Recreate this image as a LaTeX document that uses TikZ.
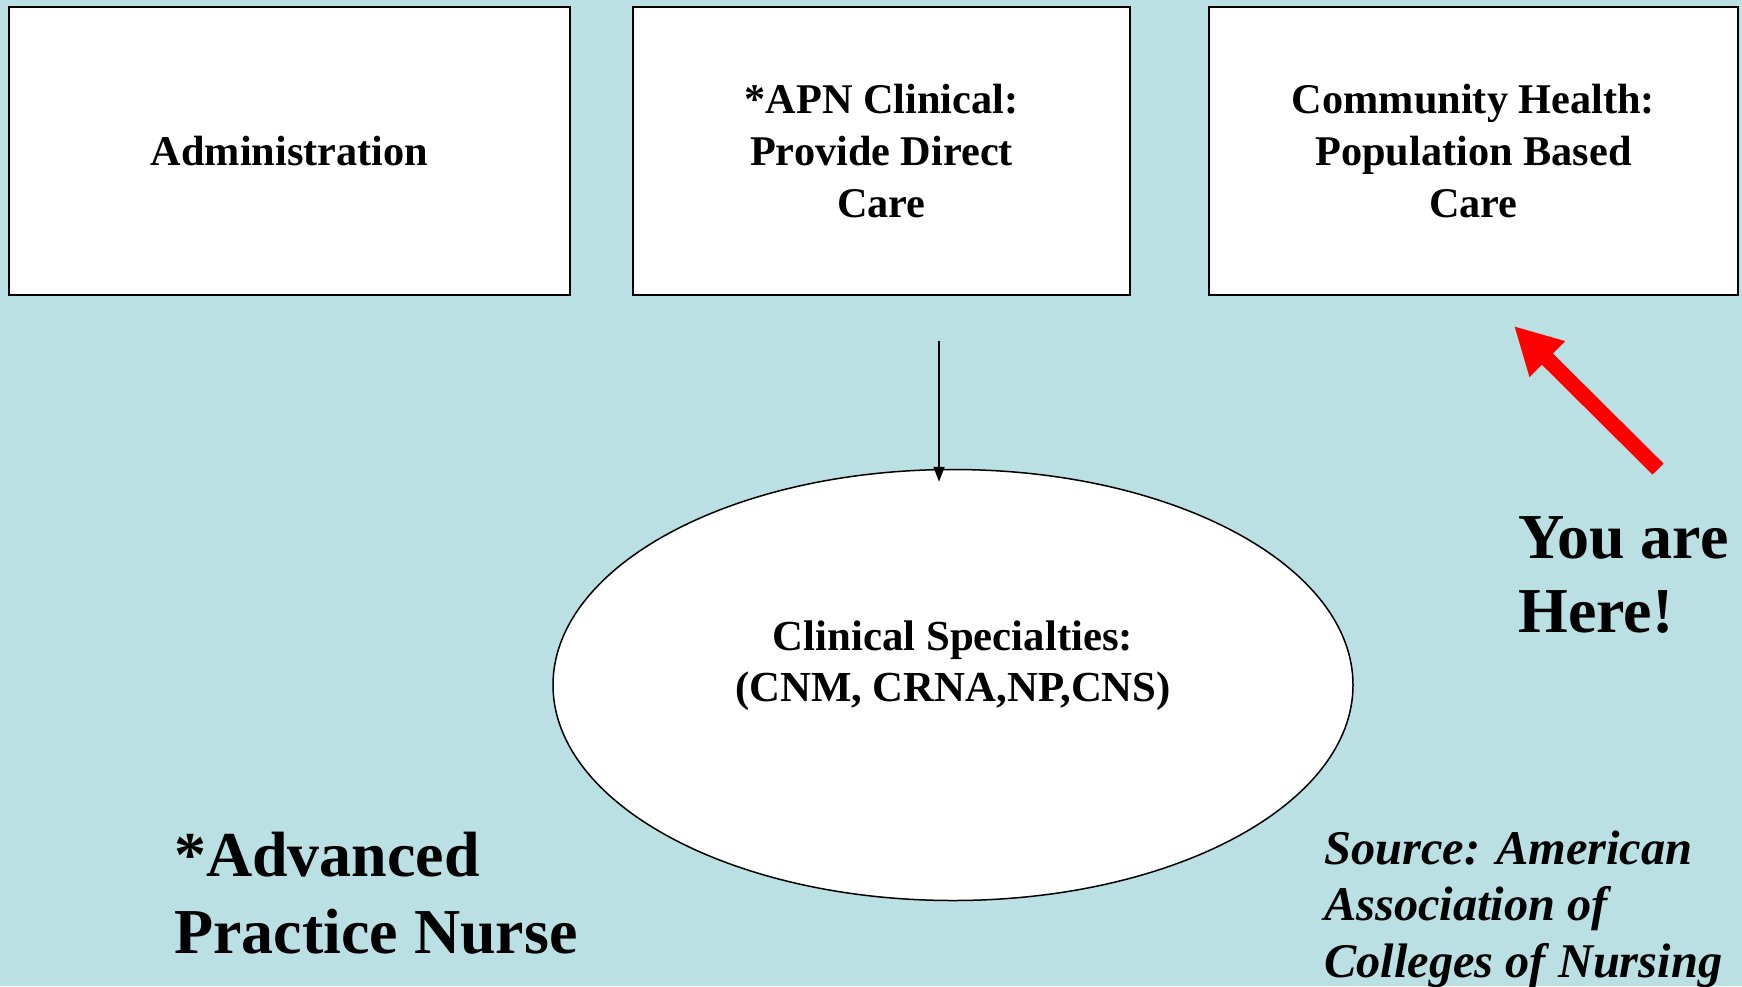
\documentclass[tikz,border=0pt]{standalone}
\usepackage{fontspec}
\setmainfont{Liberation Serif}
\usetikzlibrary{shapes.geometric,arrows.meta}
\definecolor{bgc}{RGB}{186,224,227}
\definecolor{redarrow}{RGB}{255,0,0}
\tikzset{
  topbox/.style={draw=black, line width=2pt, fill=white, align=center, inner sep=0pt,
    font=\bfseries\fontsize{42.3}{52.2}\selectfont},
  bigtext/.style={align=left, inner sep=0pt, anchor=west,
    font=\bfseries\fontsize{64}{74.5}\selectfont},
}
\begin{document}
\begin{tikzpicture}[x=1pt,y=-1pt]
\fill[bgc] (0,0) rectangle (1742,986);
\useasboundingbox (0,0) rectangle (1742,986);
% top boxes
\node[topbox, minimum width=561pt, minimum height=288pt] (admin) at (289.5,151) {Administration};
\node[topbox, minimum width=497pt, minimum height=288pt] (apn) at (881.5,151) {*APN Clinical:\\Provide Direct\\Care};
\node[topbox, minimum width=529pt, minimum height=288pt] (comm) at (1473.5,151) {Community Health:\\Population Based\\Care};
% ellipse
\node[ellipse, draw=black, line width=1.5pt, fill=white, minimum width=800pt, minimum height=431pt, inner sep=0pt] (cs) at (953,685) {};
\node[align=center, inner sep=0pt, font=\bfseries\fontsize{42.8}{51}\selectfont] (cslabel) at (953,665.5) {Clinical Specialties:\\(CNM, CRNA,NP,CNS)};
% black arrow
\coordinate (astart) at (939,341);
\draw[line width=2pt, -{Triangle[length=15pt,width=11pt]}, shorten >=-13pt] (astart) -- (astart |- cs.north);
% red arrow
\coordinate (rtail) at (1658,469);
\coordinate (rtip) at (1514,326);
\draw[redarrow, line width=15.6pt, -{Triangle[length=47pt,width=47pt]}] (rtail) -- (rtip);
% texts
\node[bigtext] (here) at (1518,575) {You are\\Here!};
\node[bigtext, font=\bfseries\fontsize{64}{77.5}\selectfont] (apnnote) at (174,893) {*Advanced\\Practice Nurse};
\node[align=left, inner sep=0pt, anchor=west, font=\bfseries\itshape\fontsize{48.4}{56.5}\selectfont] (source) at (1324,909) {Source: American\\Association of\\Colleges of Nursing};
\end{tikzpicture}
\end{document}
